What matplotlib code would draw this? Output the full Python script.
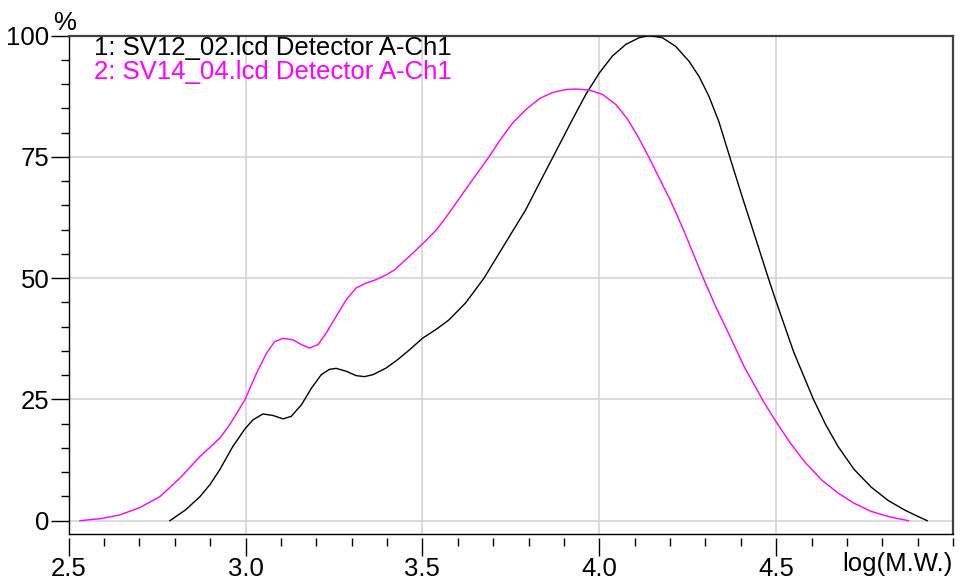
import numpy as np
import matplotlib
matplotlib.use("Agg")
import matplotlib.pyplot as plt
from matplotlib.ticker import MultipleLocator, FixedLocator

# ---------------------------------------------------------------
# data (log(M.W.) vs. % of max)
# ---------------------------------------------------------------
sv12_x = [2.786, 2.83, 2.871, 2.9, 2.927, 2.964, 2.998, 3.021, 3.049, 3.077,
          3.106, 3.129, 3.158, 3.186, 3.214, 3.237, 3.256, 3.285, 3.313, 3.336,
          3.36, 3.398, 3.43, 3.463, 3.5, 3.54, 3.575, 3.622, 3.674, 3.735,
          3.792, 3.83, 3.882, 3.924, 3.962, 4.0, 4.037, 4.075, 4.113, 4.141,
          4.178, 4.216, 4.254, 4.282, 4.31, 4.338, 4.357, 4.38, 4.404, 4.431,
          4.478, 4.498, 4.55, 4.605, 4.64, 4.675, 4.72, 4.769, 4.816, 4.863,
          4.9, 4.927]
sv12_y = [0.0, 2.2, 4.95, 7.5, 10.5, 15.3, 18.9, 20.8, 22.0, 21.7,
          21.0, 21.5, 23.9, 27.3, 30.1, 31.2, 31.4, 30.8, 29.9, 29.7,
          30.1, 31.5, 33.2, 35.2, 37.6, 39.5, 41.4, 44.9, 50.0, 57.3,
          64.1, 69.5, 76.8, 82.7, 87.9, 92.3, 95.8, 98.2, 99.6, 100.0,
          99.6, 97.8, 94.7, 91.6, 87.5, 82.3, 77.8, 72.4, 66.8, 60.7,
          50.0, 45.6, 34.7, 25.1, 19.8, 15.3, 10.6, 6.9, 4.2, 2.2,
          0.9, 0.0]

sv14_x = [2.532, 2.589, 2.645, 2.701, 2.758, 2.814, 2.871, 2.927, 2.955, 2.998,
          3.031, 3.059, 3.082, 3.106, 3.134, 3.158, 3.181, 3.205, 3.228, 3.256,
          3.285, 3.313, 3.341, 3.369, 3.398, 3.421, 3.46, 3.498, 3.54, 3.575,
          3.622, 3.688, 3.717, 3.755, 3.793, 3.83, 3.868, 3.906, 3.934, 3.971,
          4.009, 4.047, 4.08, 4.11, 4.14, 4.167, 4.2, 4.238, 4.294, 4.33,
          4.365, 4.41, 4.464, 4.498, 4.54, 4.581, 4.63, 4.675, 4.72, 4.769,
          4.82, 4.874]
sv14_y = [0.0, 0.4, 1.2, 2.7, 4.95, 8.75, 13.2, 17.0, 19.75, 24.9,
          30.4, 34.5, 36.9, 37.6, 37.3, 36.3, 35.6, 36.3, 38.7, 42.1,
          45.6, 48.0, 49.0, 49.7, 50.7, 51.7, 54.3, 56.9, 60.0, 63.4,
          68.3, 75.0, 78.2, 82.0, 84.8, 87.0, 88.3, 88.9, 89.0, 88.8,
          87.9, 85.8, 82.8, 79.1, 75.0, 71.0, 66.2, 60.0, 50.0, 44.0,
          38.7, 31.7, 24.6, 20.6, 16.0, 12.1, 8.3, 5.7, 3.6, 1.9,
          0.8, 0.0]

legend_labels = ["1: SV12_02.lcd Detector A-Ch1", "2: SV14_04.lcd Detector A-Ch1"]
x_major = [2.5, 3.0, 3.5, 4.0, 4.5]
x_labels = ["2.5", "3.0", "3.5", "4.0", "4.5"]
y_major = [0, 25, 50, 75, 100]

# ---------------------------------------------------------------
# figure
# ---------------------------------------------------------------
plt.rcParams["font.family"] = ["Liberation Sans", "DejaVu Sans"]
FS = 18.5

fig = plt.figure(figsize=(9.63, 5.80), dpi=100)
ax = fig.add_axes([68.7 / 963, 1 - 534 / 580, (953 - 68.7) / 963, (534 - 35.7) / 580])

ax.plot(sv12_x, sv12_y, color="black", lw=1.0, zorder=3)
ax.plot(sv14_x, sv14_y, color="#ff00ff", lw=1.0, zorder=3)

ax.set_xlim(2.5, 5.0)
ax.set_ylim(-2.75, 100)

ax.xaxis.set_major_locator(FixedLocator(x_major))
ax.set_xticklabels(x_labels)
ax.xaxis.set_minor_locator(MultipleLocator(0.1))
ax.yaxis.set_major_locator(FixedLocator(y_major))
ax.yaxis.set_minor_locator(MultipleLocator(5))

ax.grid(True, which="major", color="#d4d4d4", lw=1.2, zorder=0)
ax.set_axisbelow(True)

ax.tick_params(axis="both", which="both", direction="out", colors="black",
               labelsize=FS, width=1.0)
ax.tick_params(axis="x", which="major", length=13, pad=0.3)
ax.tick_params(axis="x", which="minor", length=6)
ax.tick_params(axis="y", which="major", length=13, pad=1)
ax.tick_params(axis="y", which="minor", length=6)

# x ticks sit a few pixels below the frame
ax.spines["bottom"].set_position(("outward", 3))
ax.spines["bottom"].set_visible(False)
ax.axhline(-2.75, color="black", lw=1.0, clip_on=False, zorder=4)
ax.spines["left"].set_color("black")
ax.spines["left"].set_linewidth(1.0)
for side in ["top", "right"]:
    ax.spines[side].set_color("#404040")
    ax.spines[side].set_linewidth(1.6)

# legend as coloured text
ax.text(0.0286, 0.9613, legend_labels[0], transform=ax.transAxes,
        color="black", fontsize=FS, va="baseline", ha="left")
ax.text(0.0286, 0.9130, legend_labels[1], transform=ax.transAxes,
        color="#ff00ff", fontsize=FS, va="baseline", ha="left")

fig.text(65 / 963, 1 - 30 / 580, "%", fontsize=FS, ha="center", va="baseline")
fig.text(953 / 963, 1 - 571 / 580, "log(M.W.)", fontsize=FS, ha="right", va="baseline")

fig.savefig("out.png", dpi=100)
